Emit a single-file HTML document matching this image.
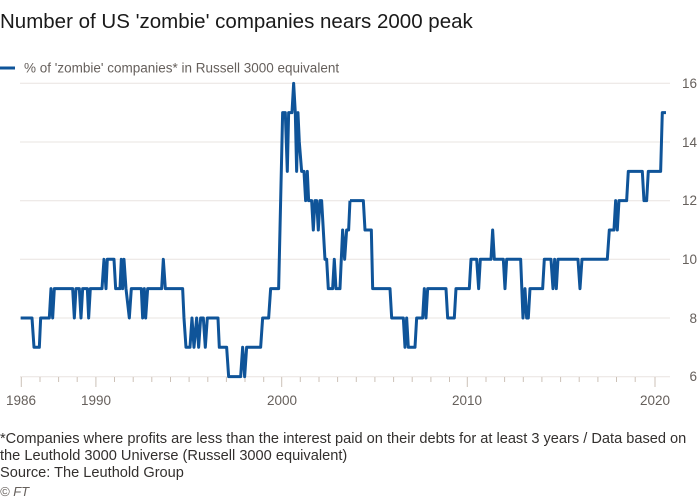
<!DOCTYPE html>
<html><head><meta charset="utf-8"><style>
body{margin:0;background:#fff;font-family:"Liberation Sans",sans-serif;}
.w{position:relative;width:700px;height:500px;overflow:hidden;}
.t{position:absolute;left:0;top:10px;font-size:20.5px;color:#1a1a1a;}
.n{position:absolute;left:0;top:431px;font-size:14.6px;color:#33302e;line-height:17px;white-space:nowrap;}
.c{position:absolute;left:0;top:484px;font-size:13px;color:#66605c;font-style:italic;}
</style></head><body><div class="w">
<div class="t">Number of US 'zombie' companies nears 2000 peak</div>
<svg width="700" height="500" style="position:absolute;left:0;top:0">
<line x1="0" y1="68" x2="15" y2="68" stroke="#0f5499" stroke-width="3"/>
<text x="24" y="72.5" font-size="13.5" fill="#66605c">% of 'zombie' companies* in Russell 3000 equivalent</text>
<g stroke="#e9e4e0" stroke-width="1">
<line x1="20" x2="670" y1="83.3" y2="83.3"/><line x1="20" x2="670" y1="142" y2="142"/>
<line x1="20" x2="670" y1="200.7" y2="200.7"/><line x1="20" x2="670" y1="259.3" y2="259.3"/>
<line x1="20" x2="670" y1="318" y2="318"/><line x1="20" x2="670" y1="376.7" y2="376.7"/>
</g>
<g stroke="#ccc1b7" stroke-width="1">
<line x1="21.3" x2="21.3" y1="377" y2="387"/><line x1="40" x2="40" y1="377" y2="382"/><line x1="58.6" x2="58.6" y1="377" y2="382"/><line x1="77.2" x2="77.2" y1="377" y2="382"/><line x1="95.9" x2="95.9" y1="377" y2="387"/><line x1="114.5" x2="114.5" y1="377" y2="382"/><line x1="133.2" x2="133.2" y1="377" y2="382"/><line x1="151.8" x2="151.8" y1="377" y2="382"/><line x1="170.5" x2="170.5" y1="377" y2="382"/><line x1="189.1" x2="189.1" y1="377" y2="382"/><line x1="207.8" x2="207.8" y1="377" y2="382"/><line x1="226.4" x2="226.4" y1="377" y2="382"/><line x1="245" x2="245" y1="377" y2="382"/><line x1="263.7" x2="263.7" y1="377" y2="382"/><line x1="281.7" x2="281.7" y1="377" y2="387"/><line x1="300.3" x2="300.3" y1="377" y2="382"/><line x1="319" x2="319" y1="377" y2="382"/><line x1="337.6" x2="337.6" y1="377" y2="382"/><line x1="356.3" x2="356.3" y1="377" y2="382"/><line x1="374.9" x2="374.9" y1="377" y2="382"/><line x1="393.6" x2="393.6" y1="377" y2="382"/><line x1="412.2" x2="412.2" y1="377" y2="382"/><line x1="430.9" x2="430.9" y1="377" y2="382"/><line x1="449.5" x2="449.5" y1="377" y2="382"/><line x1="467.3" x2="467.3" y1="377" y2="387"/><line x1="486" x2="486" y1="377" y2="382"/><line x1="504.6" x2="504.6" y1="377" y2="382"/><line x1="523.3" x2="523.3" y1="377" y2="382"/><line x1="541.9" x2="541.9" y1="377" y2="382"/><line x1="560.6" x2="560.6" y1="377" y2="382"/><line x1="579.2" x2="579.2" y1="377" y2="382"/><line x1="597.9" x2="597.9" y1="377" y2="382"/><line x1="616.5" x2="616.5" y1="377" y2="382"/><line x1="635.2" x2="635.2" y1="377" y2="382"/><line x1="655" x2="655" y1="377" y2="387"/>
</g>
<g font-size="13.5" fill="#66605c">
<text x="21" y="405" text-anchor="middle">1986</text><text x="96" y="405" text-anchor="middle">1990</text>
<text x="282" y="405" text-anchor="middle">2000</text><text x="467" y="405" text-anchor="middle">2010</text>
<text x="655" y="405" text-anchor="middle">2020</text>
<g text-anchor="end"><text x="697" y="88">16</text><text x="697" y="147">14</text><text x="697" y="205">12</text><text x="697" y="264">10</text><text x="697" y="323">8</text><text x="697" y="381">6</text></g>
</g>
<g fill="none" stroke="#0f5499" stroke-width="3" stroke-linejoin="round">
<path vector-effect="non-scaling-stroke" transform="translate(0,50) scale(0.3333)" d="M62,804 H96 L102,892 H118 L122,804 H148 L153,716 L158,804 L163,716 H218 L223,804 L228,716 H238 L243,804 L248,716 H262 L266,804 L271,716 H306 L312,628 L318,716 L322,628 H342 L347,716 H360 L364,628 L368,716 L372,628 L378,716 L388,804 L394,716 H424 L428,804 L433,716 L437,804 L443,716 H485 L490,628 L496,716 H548 L552,804 L558,892 H570 L576,804 L582,892 L590,804 L596,892 L602,804 H610 L616,892 L622,804 H654 L658,892 H680 L686,980 H722 L728,892 L734,980 L740,892 H782 L788,804 H806 L812,716 H836 L842,452 L848,188 H856 L862,364 L866,188 H876 L881,100 L886,188 L890,364 L894,188 L898,276 L905,364 H912 L917,452 L922,364 L926,452 H935 L940,540 L945,452 H950 L955,540 L960,452 H965 L975,628 H980 L985,716 H998 L1003,628 L1008,716 H1020 L1028,540 L1034,628 L1040,540 H1046 L1050,452"/>
<path vector-effect="non-scaling-stroke" transform="translate(350,50) scale(0.3333)" d="M0,452 H40 L45,540 H64 L68,716 H120 L125,804 H160 L165,892 L170,804 L175,892 H195 L200,804 H218 L223,716 L228,804 L233,716 H288 L293,804 H313 L318,716 H358 L363,628 H380 L386,716 L391,628 H423 L428,540 L433,628 H460 L465,716 L470,628 H512 L519,804 L525,716 L530,804 H535 L540,716 H578 L583,628 H603 L609,716 L614,628 L619,716 L624,628 H684 L690,716 L696,628 H772 L778,540 H792 L797,452 L802,540 L807,452 H830 L835,364 H877 L882,452 H890 L895,364 H932 L937,188 H948"/>
</g>
</svg>
<div class="n">*Companies where profits are less than the interest paid on their debts for at least 3 years / Data based on<br>the Leuthold 3000 Universe (Russell 3000 equivalent)<br>Source: The Leuthold Group</div>
<div class="c">© FT</div>
</div></body></html>
